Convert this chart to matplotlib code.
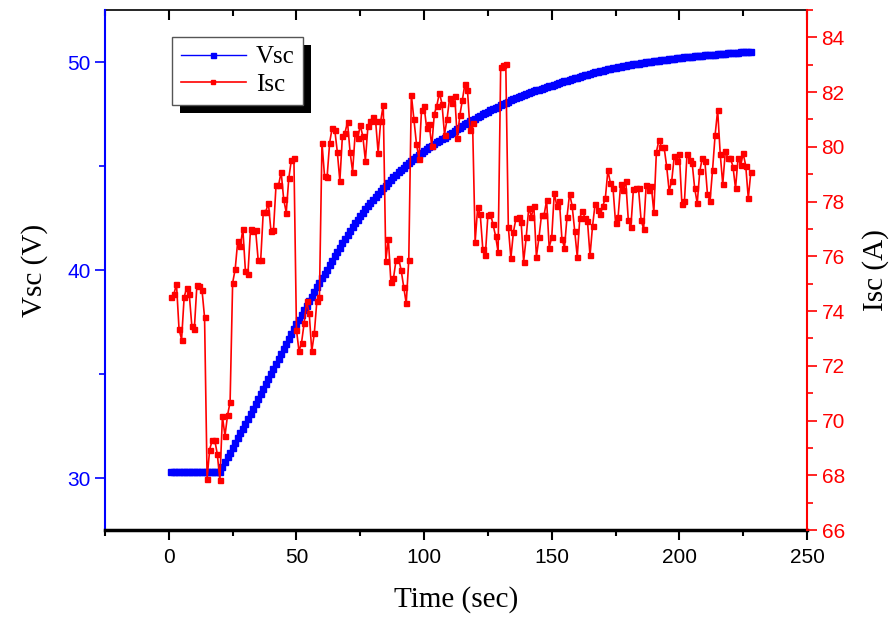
import matplotlib
matplotlib.use('Agg')
import matplotlib.pyplot as plt
import numpy as np
from matplotlib.patches import Rectangle
from matplotlib.ticker import MultipleLocator

#   supercapacitor charging: voltage (left axis) and current (right axis)
vsc = [30.30] * 20 + [
    30.53, 30.76, 30.99, 31.22, 31.45, 31.68, 31.91, 32.14, 32.37, 32.60,
    32.84, 33.08, 33.32, 33.56, 33.80, 34.04, 34.28, 34.52, 34.76, 35.00,
    35.24, 35.48, 35.72, 35.96, 36.20, 36.44, 36.68, 36.92, 37.16, 37.40,
    37.62, 37.84, 38.06, 38.28, 38.50, 38.72, 38.94, 39.16, 39.38, 39.60,
    39.81, 40.02, 40.23, 40.44, 40.65, 40.86, 41.07, 41.28, 41.49, 41.70,
    41.88, 42.06, 42.24, 42.41, 42.58, 42.75, 42.91, 43.07, 43.22, 43.37,
    43.51, 43.65, 43.79, 43.93, 44.06, 44.19, 44.32, 44.45, 44.57, 44.69,
    44.81, 44.92, 45.03, 45.14, 45.24, 45.34, 45.44, 45.53, 45.62, 45.71,
    45.80, 45.89, 45.97, 46.05, 46.13, 46.21, 46.29, 46.37, 46.45, 46.53,
    46.61, 46.69, 46.77, 46.85, 46.93, 47.00, 47.07, 47.14, 47.21, 47.28,
    47.35, 47.42, 47.49, 47.56, 47.62, 47.68, 47.74, 47.80, 47.86, 47.92,
    47.98, 48.04, 48.10, 48.16, 48.21, 48.26, 48.31, 48.36, 48.41, 48.46,
    48.51, 48.55, 48.59, 48.63, 48.67, 48.71, 48.75, 48.79, 48.83, 48.87,
    48.91, 48.95, 48.99, 49.03, 49.07, 49.11, 49.15, 49.19, 49.22, 49.25,
    49.29, 49.32, 49.36, 49.39, 49.43, 49.46, 49.50, 49.53, 49.56, 49.59,
    49.62, 49.65, 49.68, 49.70, 49.73, 49.75, 49.78, 49.80, 49.82, 49.84,
    49.86, 49.88, 49.90, 49.92, 49.94, 49.96, 49.98, 50.00, 50.02, 50.04,
    50.06, 50.07, 50.09, 50.10, 50.12, 50.13, 50.15, 50.16, 50.18, 50.19,
    50.20, 50.22, 50.23, 50.24, 50.26, 50.27, 50.28, 50.29, 50.31, 50.32,
    50.33, 50.34, 50.35, 50.36, 50.37, 50.38, 50.39, 50.40, 50.41, 50.42,
    50.43, 50.44, 50.45, 50.46, 50.47, 50.48, 50.49, 50.50,
]

isc = [
    74.50, 74.62, 74.99, 73.34, 72.96, 74.50, 74.86, 74.63, 73.47, 73.35,
    74.95, 74.93, 74.77, 73.77, 67.88, 68.94, 69.28, 69.28, 68.77, 67.82,
    70.15, 69.44, 70.19, 70.67, 75.03, 75.53, 76.56, 76.36, 77.00, 75.47,
    75.37, 76.99, 76.93, 76.95, 75.87, 75.87, 77.63, 77.63, 77.96, 76.93,
    76.95, 78.60, 78.59, 79.09, 78.08, 77.60, 78.85, 79.52, 79.60, 73.32,
    72.53, 72.85, 73.55, 74.35, 73.92, 72.53, 73.19, 74.38, 74.52, 80.15,
    78.93, 78.89, 80.15, 80.70, 80.63, 79.82, 78.75, 80.39, 80.51, 80.91,
    79.81, 79.09, 80.49, 80.33, 80.78, 80.39, 79.50, 80.75, 80.96, 81.08,
    80.96, 79.78, 80.94, 81.54, 75.84, 76.63, 75.05, 75.19, 75.86, 75.93,
    75.50, 74.89, 74.28, 75.87, 81.91, 81.03, 80.12, 79.56, 81.35, 81.48,
    80.69, 80.82, 80.03, 81.20, 81.51, 81.97, 81.58, 80.45, 81.02, 81.79,
    81.60, 81.87, 80.31, 81.15, 81.71, 82.31, 82.07, 80.60, 80.87, 76.53,
    77.80, 77.53, 76.26, 76.05, 77.51, 77.56, 77.17, 76.74, 76.16, 82.90,
    82.98, 83.02, 77.07, 75.93, 76.89, 77.39, 77.44, 77.27, 75.81, 76.69,
    77.78, 77.44, 77.84, 75.98, 76.69, 77.51, 77.50, 78.05, 76.32, 76.69,
    78.32, 77.84, 78.02, 76.63, 76.32, 77.45, 78.29, 77.84, 76.93, 75.98,
    77.41, 77.66, 77.41, 77.29, 76.03, 77.11, 77.92, 77.69, 77.54, 77.84,
    78.12, 79.14, 78.67, 78.51, 77.23, 77.44, 78.63, 78.42, 78.75, 77.32,
    77.07, 78.45, 78.48, 78.48, 77.33, 77.00, 78.60, 78.42, 78.57, 77.61,
    79.81, 80.25, 80.00, 80.00, 79.30, 78.39, 78.75, 79.66, 79.50, 79.74,
    77.90, 78.02, 79.75, 79.52, 79.42, 78.48, 77.94, 79.11, 79.60, 79.48,
    78.27, 78.02, 79.15, 80.43, 81.34, 79.75, 78.63, 79.84, 79.60, 79.58,
    79.28, 78.48, 79.60, 79.33, 79.76, 79.31, 78.12, 79.08,
]

time = np.arange(1, len(isc) + 1)

serif = ['Liberation Serif', 'DejaVu Serif']
sans = ['Liberation Sans', 'DejaVu Sans']

fig = plt.figure(figsize=(8.91, 6.19), dpi=100)
ax = fig.add_axes([105/891, 1 - 530/619, 702/891, 520/619])
ax2 = ax.twinx()

l1, = ax.plot(time, vsc, color='#0000ff', lw=1, marker='s', ms=4,
              mec='#0000ff', mfc='#0000ff', label='Vsc')
l2, = ax2.plot(time, isc, color='#ff0000', lw=1.2, marker='s', ms=3.6,
               mec='#ff0000', mfc='#ff0000', label='Isc')

ax.set_xlim(-25, 250)
ax.set_ylim(27.5, 52.5)
ax2.set_ylim(66, 85)

ax.xaxis.set_major_locator(MultipleLocator(50))
ax.xaxis.set_minor_locator(MultipleLocator(25))
ax.yaxis.set_major_locator(MultipleLocator(10))
ax.yaxis.set_minor_locator(MultipleLocator(5))
ax2.yaxis.set_major_locator(MultipleLocator(2))
ax2.yaxis.set_minor_locator(MultipleLocator(1))

ax.tick_params(axis='x', which='both', direction='out', width=1.5,
               colors='black', labelsize=15, pad=6)
ax.tick_params(axis='x', which='major', length=7)
ax.tick_params(axis='x', which='minor', length=4)
ax.tick_params(axis='y', which='both', direction='out', width=1.2,
               colors='#0000ff', labelsize=15)
ax.tick_params(axis='y', which='major', length=7)
ax.tick_params(axis='y', which='minor', length=4)
ax2.tick_params(axis='y', which='both', direction='out', width=1.2,
                colors='#ff0000', labelsize=15)
ax2.tick_params(axis='y', which='major', length=7)
ax2.tick_params(axis='y', which='minor', length=4)

top = ax.secondary_xaxis('top')
top.xaxis.set_major_locator(MultipleLocator(50))
top.xaxis.set_minor_locator(MultipleLocator(25))
top.tick_params(axis='x', which='both', direction='in', labeltop=False, width=1.5)
top.tick_params(axis='x', which='major', length=7)
top.tick_params(axis='x', which='minor', length=4)
top.spines['top'].set_linewidth(1.2)

for lab in ax.get_xticklabels() + ax.get_yticklabels() + ax2.get_yticklabels():
    lab.set_family(sans)

ax.spines['left'].set_color('#0000ff')
ax.spines['left'].set_linewidth(1.5)
ax.spines['bottom'].set_linewidth(2.5)
ax.spines['top'].set_visible(False)
ax.spines['right'].set_visible(False)
ax2.spines['right'].set_color('#ff0000')
ax2.spines['right'].set_linewidth(1.5)
for s in ['left', 'top', 'bottom']:
    ax2.spines[s].set_visible(False)

ax.set_xlabel('Time (sec)', family=serif, fontsize=21, labelpad=14)
ax.set_ylabel('Vsc (V)', family=serif, fontsize=21, labelpad=14)
ax2.set_ylabel('Isc (A)', family=serif, fontsize=21, labelpad=12)

leg = ax2.legend(handles=[l1, l2], loc='upper left',
                 bbox_to_anchor=(67/702, 493/520), borderaxespad=0,
                 fancybox=False, edgecolor='#555555', framealpha=1,
                 prop={'family': serif, 'size': 18}, handlelength=2.6,
                 markerscale=0.9, borderpad=0.35, labelspacing=0.2,
                 handletextpad=0.4)
leg.get_frame().set_linewidth(1)
leg.set_zorder(10)

fig.canvas.draw()
bb = leg.get_window_extent()
shadow = Rectangle((bb.x0 + 8, bb.y0 - 8), bb.width, bb.height,
                   transform=None, facecolor='black', edgecolor='none',
                   zorder=9, clip_on=False)
ax2.add_artist(shadow)

fig.savefig('out.png', dpi=100)
